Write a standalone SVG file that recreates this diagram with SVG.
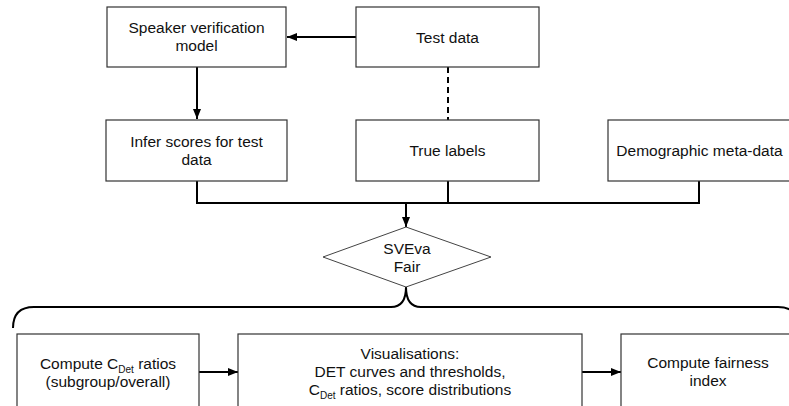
<svg xmlns="http://www.w3.org/2000/svg" width="789" height="406" viewBox="0 0 789 406">
<defs>
<style>
.box{fill:#fff;stroke:#333;stroke-width:1.2}
.t{font-family:"Liberation Sans",Arial,sans-serif;font-size:15.5px;fill:#111;text-anchor:middle}
.sub{font-size:10px}
.c{fill:none;stroke:#000;stroke-width:2}
</style>
<marker id="ah" viewBox="0 0 10 8" refX="10" refY="4" markerWidth="10" markerHeight="8" markerUnits="userSpaceOnUse" orient="auto">
<path d="M0 0 L10 4 L0 8 Z" fill="#000"/>
</marker>
</defs>
<rect width="789" height="406" fill="#fff"/>
<g id="connectors">
<line class="c" x1="356" y1="37" x2="287" y2="37" marker-end="url(#ah)"/>
<line class="c" x1="197" y1="67" x2="197" y2="119" marker-end="url(#ah)"/>
<line class="c" x1="448" y1="67" x2="448" y2="120" stroke-dasharray="6,4"/>
<polyline class="c" points="197,181 197,203 699,203 699,181"/>
<line class="c" x1="448" y1="181" x2="448" y2="203"/>
<line class="c" x1="406" y1="203" x2="406" y2="227" marker-end="url(#ah)"/>
<path class="c" d="M13 328 Q13 307 34 307 L391 307 Q406 307 406 287 Q406 307 421 307 L778 307 Q799 307 799 328"/>
<line class="c" x1="199" y1="372" x2="238" y2="372" marker-end="url(#ah)"/>
<line class="c" x1="582" y1="372" x2="621" y2="372" marker-end="url(#ah)"/>
</g>
<g id="speaker-model">
<rect class="box" x="107" y="7" width="179" height="60"/>
<text class="t" x="196.5" y="33">Speaker verification</text>
<text class="t" x="196.5" y="51">model</text>
</g>
<g id="test-data">
<rect class="box" x="356" y="7" width="183" height="60"/>
<text class="t" x="447.5" y="42.5">Test data</text>
</g>
<g id="infer-scores">
<rect class="box" x="106" y="120" width="181" height="61"/>
<text class="t" x="196.5" y="147">Infer scores for test</text>
<text class="t" x="196.5" y="165">data</text>
</g>
<g id="true-labels">
<rect class="box" x="356" y="120" width="183" height="61"/>
<text class="t" x="447.5" y="156">True labels</text>
</g>
<g id="demographic">
<rect class="box" x="608" y="120" width="190" height="61"/>
<text class="t" x="699.5" y="156">Demographic meta-data</text>
</g>
<g id="sveva">
<polygon points="406,227 491,257 406,287 323,257" fill="#fff" stroke="#444" stroke-width="1"/>
<text class="t" x="407" y="254">SVEva</text>
<text class="t" x="407" y="272">Fair</text>
</g>
<g id="compute-cdet">
<rect class="box" x="17" y="334" width="182" height="80"/>
<text class="t" x="108" y="369">Compute C<tspan class="sub" dy="3.5">Det</tspan><tspan dy="-3.5"> ratios</tspan></text>
<text class="t" x="108" y="387">(subgroup/overall)</text>
</g>
<g id="visualisations">
<rect class="box" x="238" y="334" width="344" height="80"/>
<text class="t" x="410" y="359">Visualisations:</text>
<text class="t" x="410" y="377">DET curves and thresholds,</text>
<text class="t" x="410" y="395">C<tspan class="sub" dy="3.5">Det</tspan><tspan dy="-3.5"> ratios, score distributions</tspan></text>
</g>
<g id="fairness-index">
<rect class="box" x="621" y="334" width="180" height="80"/>
<text class="t" x="708" y="368">Compute fairness</text>
<text class="t" x="708" y="386">index</text>
</g>
</svg>
